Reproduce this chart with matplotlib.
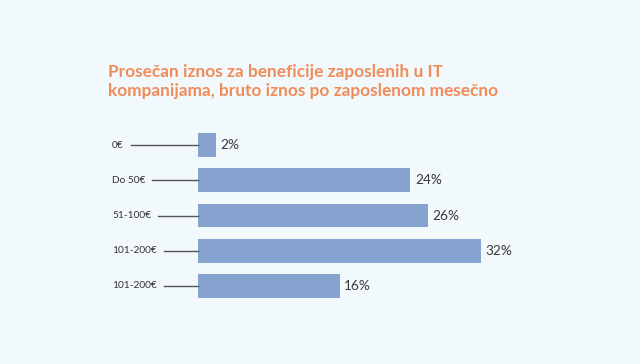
import matplotlib.pyplot as plt

categories = ['0€', 'Do 50€', '51-100€', '101-200€', '101-200€']
values = [2, 24, 26, 32, 16]
title = 'Prosečan iznos za beneficije zaposlenih u IT\nkompanijama, bruto iznos po zaposlenom mesečno'

W, H = 640, 364
bg = '#f2f9fc'
bar_color = '#86a2ce'

fig = plt.figure(figsize=(W / 100, H / 100), dpi=100, facecolor=bg)
plt.rcParams['font.family'] = ['Lato', 'DejaVu Sans']

# axes placed in pixels: x 0 -> 198px, 32 -> 481px
x0, x1 = 198, 481
top, bottom = 127.4, 303.6
ax = fig.add_axes([x0 / W, 1 - bottom / H, (x1 - x0) / W, (bottom - top) / H])
ax.set_facecolor('none')
ys = list(range(len(values)))
ax.barh(ys, values, height=0.68, color=bar_color)
ax.set_xlim(0, 32)
ax.set_ylim(len(values) - 0.5, -0.5)
ax.axis('off')

for y, v in zip(ys, values):
    ax.text(v + 0.55, y, f'{v}%', va='center', ha='left', fontsize=9.8, color='#3a3a3a')

fig.text(108 / W, 1 - 64 / H, title, ha='left', va='top', fontsize=12.4,
         color='#f08c5a', fontweight='bold', linespacing=1.22)

fig.canvas.draw()
renderer = fig.canvas.get_renderer()
for y, c in zip(ys, categories):
    py = ax.transData.transform((0, y))[1]
    t = fig.text(112 / W, py / H, c, ha='left', va='center', fontsize=7.3, color='#333333')
    ext = t.get_window_extent(renderer)
    fig.add_artist(plt.Line2D([(ext.x1 + 7) / W, x0 / W], [py / H, py / H],
                              color='#555555', lw=1, transform=fig.transFigure))

fig.savefig('out.png', dpi=100, facecolor=bg)
